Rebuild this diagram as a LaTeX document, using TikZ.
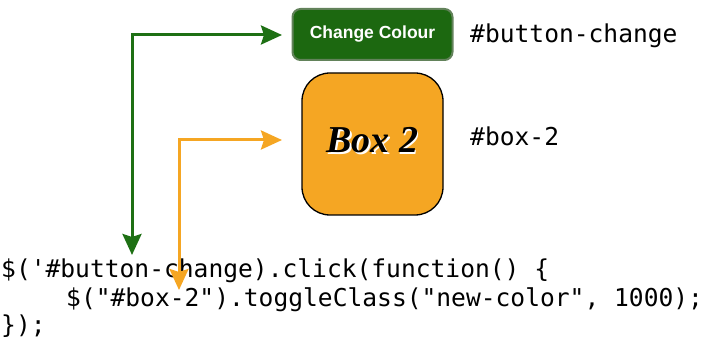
\documentclass[tikz,border=0pt]{standalone}
\usepackage{fontspec}
\newfontfamily\codefont{DejaVu Sans Mono}
\newfontfamily\btnfont{Liberation Sans}
\newfontfamily\boxfont{Liberation Serif}
\usetikzlibrary{arrows.meta}
\definecolor{btngreen}{RGB}{28,104,16}
\definecolor{btnborder}{RGB}{98,130,90}
\definecolor{arrgreen}{RGB}{30,112,20}
\definecolor{boxorange}{RGB}{245,166,35}
\tikzset{
  code/.style={anchor=base west, inner sep=0pt, font=\codefont\fontsize{24.6}{29}\selectfont},
  boxlabel/.style={inner sep=0pt, font=\boxfont\bfseries\itshape\fontsize{38}{42}\selectfont},
  link/.style={line width=3pt, {Stealth[length=21pt,width=19pt,inset=3pt]}-{Stealth[length=21pt,width=19pt,inset=3pt]}},
}
\begin{document}
\begin{tikzpicture}[x=1pt,y=-1pt]
\useasboundingbox (0,0) rectangle (714,344);
% button
\node[draw=btnborder, line width=2pt, fill=btngreen, rounded corners=8pt,
      minimum width=160pt, minimum height=51pt, inner sep=0pt,
      text=white, font=\btnfont\bfseries\fontsize{17.5}{20}\selectfont]
      (btn) at (372.5,34.5) {Change Colour};
% box
\node[draw=black, line width=1.3pt, fill=boxorange, rounded corners=28pt,
      minimum width=141pt, minimum height=142pt, inner sep=0pt]
      (box) at (372.5,144) {};
\node[boxlabel, text=white] (boxtxtshadow) at (374,142) {Box 2};
\node[boxlabel, text=black] (boxtxt) at (372.5,140.5) {Box 2};
% labels
\node[code] (lblbtn) at (470,43) {\#button-change};
\node[code] (lblbox) at (470,146) {\#box-2};
% code
\node[code] (l1) at (1,278) {\$('\#button-change).click(function() \{};
\node[code] (l2) at (66,306) {\$("\#box-2").toggleClass("new-color", 1000);};
\node[code] (l3) at (1,334) {\});};
% connector ends
\coordinate (gtip) at (132,255);
\coordinate (gend) at (282,35);
\coordinate (otip) at (179,290);
\coordinate (oend) at (282,140);
\draw[link, arrgreen] (gtip) |- (gend);
\draw[link, boxorange] (otip) |- (oend);
\end{tikzpicture}
\end{document}
